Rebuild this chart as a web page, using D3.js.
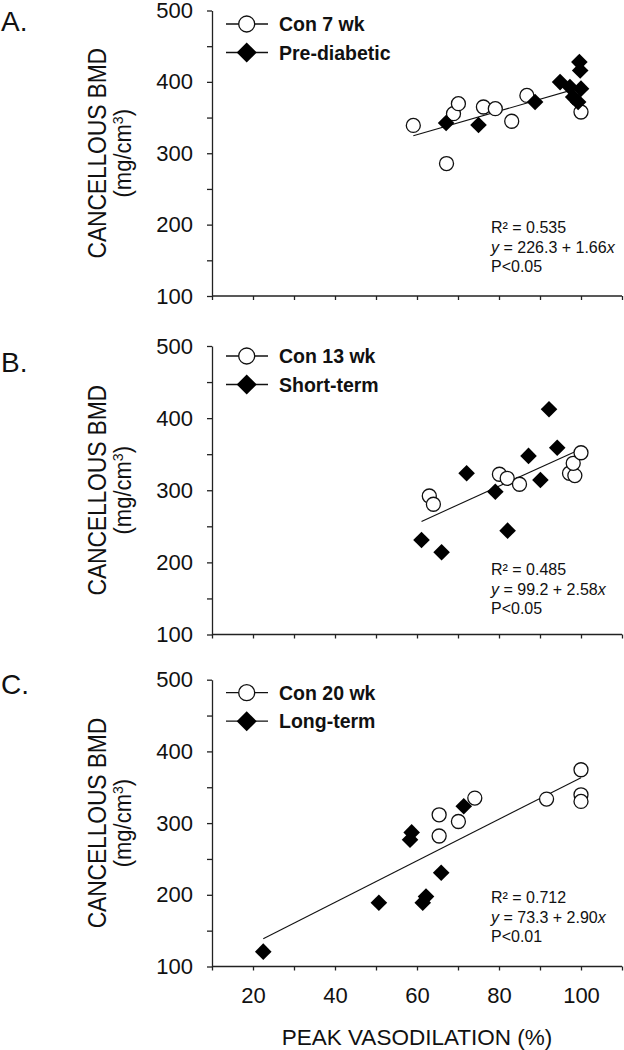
<!DOCTYPE html>
<html>
<head>
<meta charset="utf-8">
<script src="https://cdn.jsdelivr.net/npm/d3@7"></script>
<style>
  html, body { margin: 0; padding: 0; background: #fff; }
  svg { display: block; font-family: "Liberation Sans", Arial, sans-serif; }
  .axis path, .axis line { stroke: #222; stroke-width: 1.3; }
  .axis text { font-size: 22px; fill: #111; font-family: "Liberation Sans", Arial, sans-serif; }
</style>
</head>
<body>
<script>
// --- data: [peak vasodilation %, cancellous BMD mg/cm3]
const con7wk = [[59.1, 339], [67.2, 285.6], [68.9, 355.5], [70.1, 369.5], [76.2, 364.8],
                [79.1, 362.5], [83.1, 344.8], [86.8, 381], [100, 357.8]];
const preDiabetic = [[67.1, 342.4], [75, 339.6], [88.8, 371.7], [94.9, 399.7], [97.3, 392.7],
                     [99.6, 427.7], [99.8, 416], [100, 390.5], [98.1, 378.7], [99.3, 371.7]];

const con13wk = [[63, 292], [64, 280.6], [80.1, 322.2], [82, 316.6], [85, 308.3],
                 [97.2, 323.6], [98.5, 320.3], [98.1, 337.4], [100, 352]];
const shortTerm = [[92.2, 412.3], [94.2, 359], [87.2, 347.6], [72.1, 323.6], [79.1, 298],
                   [90.1, 314.3], [82.1, 244], [61.1, 231], [66, 214]];

const con20wk = [[100, 374.4], [100, 339.5], [100, 330.2], [91.6, 333.5], [74.1, 334.9],
                 [70.1, 302.2], [65.4, 311.6], [65.4, 282]];
const longTerm = [[22.5, 120.7], [50.7, 189], [61.4, 189], [62.2, 197.5], [65.9, 230.7],
                  [58.7, 287], [58.3, 276.7], [71.4, 323.5]];

const panelLetters = ["A.", "B.", "C."];
const controlLabels = ["Con 7 wk", "Con 13 wk", "Con 20 wk"];
const diseaseLabels = ["Pre-diabetic", "Short-term", "Long-term"];
const intercepts = [226.3, 99.2, 73.3];
const slopes = [1.66, 2.58, 2.90];
const r2Labels = ["0.535", "0.485", "0.712"];
const pLabels = ["P<0.05", "P<0.05", "P<0.01"];

const yTicks = [100, 150, 200, 250, 300, 350, 400, 450, 500];
const xTicks = [10, 20, 30, 40, 50, 60, 70, 80, 90, 100, 110];
const xTickLabels = [20, 40, 60, 80, 100];

const controls = [con7wk, con13wk, con20wk];
const diseased = [preDiabetic, shortTerm, longTerm];

// --- layout
const W = 624, H = 1050;
const left = 212, right = 622;
const panelTop = [10.5, 346, 679.7];
const panelBottom = [296, 634.5, 966.5];
const letterY = [30.7, 371.7, 694];
const legendY = [24, 356, 692.7];
const statsOffset = [63, 60, 64];

const svg = d3.select("body").append("svg")
    .attr("width", W)
    .attr("height", H);

const x = d3.scaleLinear().domain([10, 110]).range([left, right]);

function diamond(r) {
    return `M0,${-r}L${r},0L0,${r}L${-r},0Z`;
}

function drawPanel(i) {
    const y = d3.scaleLinear().domain([100, 500]).range([panelBottom[i], panelTop[i]]);
    const g = svg.append("g");

    // axes
    g.append("g")
        .attr("class", "axis")
        .attr("transform", `translate(${left},0)`)
        .call(d3.axisLeft(y)
            .tickValues(yTicks)
            .tickSize(5)
            .tickSizeOuter(0)
            .tickPadding(14)
            .tickFormat(d => d % 100 === 0 ? d : ""));

    const xAxis = g.append("g")
        .attr("class", "axis")
        .attr("transform", `translate(0,${panelBottom[i]})`)
        .call(d3.axisBottom(x)
            .tickValues(xTicks)
            .tickSize(4)
            .tickSizeOuter(0)
            .tickPadding(17)
            .tickFormat(d => (i === 2 && xTickLabels.includes(d)) ? d : ""));
    xAxis.select(".domain").attr("d", `M${left},0H${right}`);

    // y title (the original lettering is a little wider than it is tall)
    const cy = (panelTop[i] + panelBottom[i]) / 2;
    g.append("text")
        .attr("transform", `translate(106,${cy}) scale(1.15,1) rotate(-90)`)
        .attr("text-anchor", "middle")
        .style("font-size", "23px")
        .style("letter-spacing", "-0.2px")
        .attr("fill", "#111")
        .text("CANCELLOUS BMD");
    const units = g.append("text")
        .attr("transform", `translate(131,${cy}) scale(1.05,1) rotate(-90)`)
        .attr("text-anchor", "middle")
        .style("font-size", "22px")
        .attr("fill", "#111");
    units.append("tspan").text("(mg/cm");
    units.append("tspan").attr("dy", -8).style("font-size", "14px").text("3");
    units.append("tspan").attr("dy", 8).text(")");

    // panel letter
    g.append("text")
        .attr("x", 1)
        .attr("y", letterY[i])
        .style("font-size", "28px")
        .attr("fill", "#111")
        .text(panelLetters[i]);

    // regression line
    const all = controls[i].concat(diseased[i]);
    const [x0, x1] = d3.extent(all, d => d[0]);
    const line = d3.line().x(d => x(d[0])).y(d => y(d[1]));
    g.append("path")
        .attr("d", line([[x0, intercepts[i] + slopes[i] * x0], [x1, intercepts[i] + slopes[i] * x1]]))
        .attr("fill", "none")
        .attr("stroke", "#111")
        .attr("stroke-width", 1.1);

    // markers
    g.append("g").selectAll("circle")
        .data(controls[i])
        .join("circle")
        .attr("cx", d => x(d[0]))
        .attr("cy", d => y(d[1]))
        .attr("r", 7)
        .attr("fill", "#fff")
        .attr("stroke", "#111")
        .attr("stroke-width", 1.3);

    g.append("g").selectAll("path")
        .data(diseased[i])
        .join("path")
        .attr("transform", d => `translate(${x(d[0])},${y(d[1])})`)
        .attr("d", diamond(8.3))
        .attr("fill", "#000");

    // legend
    const rows = [
        { label: controlLabels[i], open: true },
        { label: diseaseLabels[i], open: false }
    ];
    const lg = g.append("g").attr("transform", `translate(0,${legendY[i]})`);
    rows.forEach((row, k) => {
        const ry = k * 28.5;
        lg.append("line")
            .attr("x1", 226).attr("x2", 268)
            .attr("y1", ry).attr("y2", ry)
            .attr("stroke", "#111").attr("stroke-width", 1.3);
        if (row.open) {
            lg.append("circle")
                .attr("cx", 246.7).attr("cy", ry).attr("r", 8)
                .attr("fill", "#fff").attr("stroke", "#111").attr("stroke-width", 1.3);
        } else {
            lg.append("path")
                .attr("transform", `translate(246.7,${ry})`)
                .attr("d", diamond(10))
                .attr("fill", "#000");
        }
        lg.append("text")
            .attr("x", 279)
            .attr("y", ry + 7)
            .style("font-size", "19.5px")
            .style("font-weight", "bold")
            .attr("fill", "#111")
            .text(row.label);
    });

    // stats text
    const sy = panelBottom[i] - statsOffset[i];
    const st = g.append("g").style("font-size", "16px").attr("fill", "#111");
    st.append("text").attr("x", 491).attr("y", sy).text(`R² = ${r2Labels[i]}`);
    const eq = st.append("text").attr("x", 491).attr("y", sy + 20);
    eq.append("tspan").style("font-style", "italic").text("y");
    eq.append("tspan").text(` = ${intercepts[i].toFixed(1)} + ${slopes[i].toFixed(2)}`);
    eq.append("tspan").style("font-style", "italic").text("x");
    st.append("text").attr("x", 491).attr("y", sy + 39).text(pLabels[i]);
}

[0, 1, 2].forEach(drawPanel);

// x title
svg.append("text")
    .attr("x", (left + right) / 2)
    .attr("y", 1045)
    .attr("text-anchor", "middle")
    .style("font-size", "22.5px")
    .attr("fill", "#111")
    .text("PEAK VASODILATION (%)");
</script>
</body>
</html>
